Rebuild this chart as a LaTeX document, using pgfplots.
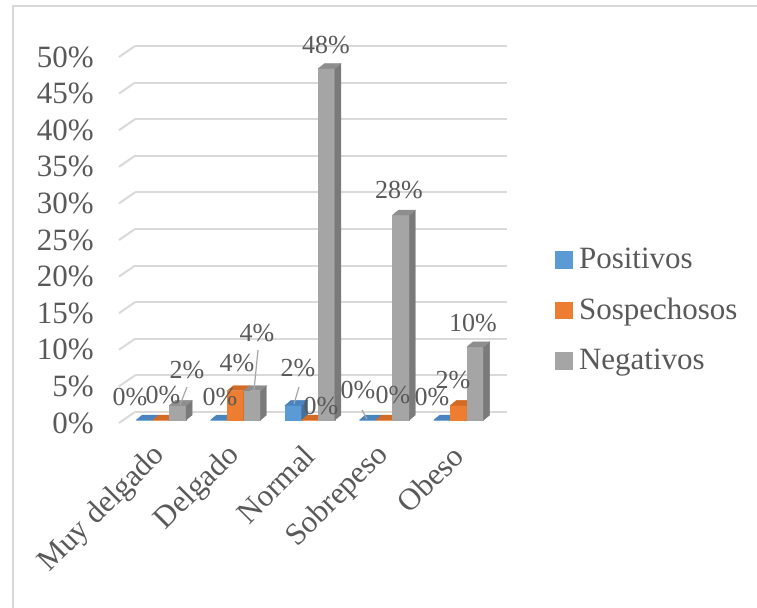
\documentclass[border=0pt]{standalone}
\usepackage{pgfplots}
\pgfplotsset{compat=1.18}
\usepackage{fontspec}
\setmainfont{Liberation Serif}

\definecolor{txt}{HTML}{595959}
\definecolor{gridc}{HTML}{D9D9D9}
\definecolor{framec}{HTML}{D9D9D9}
\definecolor{leader}{HTML}{A6A6A6}
\definecolor{posF}{HTML}{5B9BD5}
\definecolor{posT}{HTML}{4A84BE}
\definecolor{posS}{HTML}{41719C}
\definecolor{sosF}{HTML}{ED7D31}
\definecolor{sosT}{HTML}{D36A26}
\definecolor{sosS}{HTML}{B85E22}
\definecolor{negF}{HTML}{A5A5A5}
\definecolor{negT}{HTML}{8E8E8E}
\definecolor{negS}{HTML}{7A7A7A}

\newcommand\axfont{\fontsize{31bp}{36bp}\selectfont}
\newcommand\lblfont{\fontsize{26bp}{30bp}\selectfont}

\pgfplotsset{
  % a 3-D column: front, top and side faces, drawn from the bar top;
  % the column stands 5bp right and 3bp up from the front of the floor
  column3d/.style n args={3}{
    scatter, only marks, mark=*, mark size=0pt,
    mark options={draw=none, fill=none}, forget plot,
    visualization depends on={value \thisrow{val} \as \bv},
    scatter/@pre marker code/.code={%
      \pgfmathsetmacro\bb{3-\bv*7.32}%
      \pgfmathsetmacro\bbs{8-\bv*7.32}%
      \fill[#1] (-3.3bp,\bb bp) rectangle (13.3bp,3bp);
      \fill[#3] (13.3bp,\bb bp) -- (19.3bp,\bbs bp) -- (19.3bp,8bp) -- (13.3bp,3bp) -- cycle;
      \fill[#2] (-3.3bp,3bp) -- (2.7bp,8bp) -- (19.3bp,8bp) -- (13.3bp,3bp) -- cycle;
    },
    scatter/@post marker code/.code={},
  },
  % value label (centre at lx,ly from the bar top) with optional leader line
  barlabel/.style={
    scatter, only marks, mark=*, mark size=0pt,
    mark options={draw=none, fill=none}, forget plot,
    visualization depends on={value \thisrow{val} \as \bv},
    visualization depends on={value \thisrow{lx} \as \lblx},
    visualization depends on={value \thisrow{ly} \as \lbly},
    visualization depends on={value \thisrow{lead} \as \lead},
    visualization depends on={value \thisrow{ax} \as \leadax},
    visualization depends on={value \thisrow{ay} \as \leaday},
    visualization depends on={value \thisrow{bx} \as \leadbx},
    visualization depends on={value \thisrow{by} \as \leadby},
    scatter/@pre marker code/.code={%
      \ifnum\lead=1
        \draw[leader, line width=1.2bp] (\leadax bp,\leaday bp) -- (\leadbx bp,\leadby bp);
      \fi
      \node[font=\lblfont, text=txt, inner sep=0pt] at (\lblx bp,\lbly bp) {\bv\%};
    },
    scatter/@post marker code/.code={},
  },
}

\begin{document}
\begin{tikzpicture}
\useasboundingbox (-119bp,-185bp) rectangle (638bp,423bp);
% chart frame
\draw[framec, line width=1.5bp] (-106bp,-190bp) -- (-106bp,417bp) -- (645bp,417bp);
% slanted ends of the gridlines
\foreach \k in {0,...,10}
  \draw[gridc, line width=2bp] (0bp,\k*36.6bp) -- ++(16bp,11bp);

\begin{axis}[
  at={(0,0)}, anchor=south west,
  scale only axis, width=372bp, height=366bp,
  xmin=-0.5, xmax=4.5, ymin=0, ymax=50,
  clip=false,
  axis line style={draw=none},
  tick style={draw=none},
  ytick={0,5,...,50},
  yticklabels={0\%,5\%,10\%,15\%,20\%,25\%,30\%,35\%,40\%,45\%,50\%},
  yticklabel style={font=\axfont, text=txt, anchor=east, inner sep=0pt, xshift=-25bp},
  xtick={0,...,4},
  xticklabels={Muy delgado,Delgado,Normal,Sobrepeso,Obeso},
  xticklabel style={font=\axfont, text=txt, xshift=4.5bp, yshift=-28bp, rotate=45, anchor=east, inner sep=0pt},
  ymajorgrids,
  major grid style={gridc, line width=2bp, shift={(16bp,11bp)}},
  legend style={
    at={(1.172,0.4836)}, anchor=north west,
    draw=none, fill=none, inner sep=0pt,
    font=\axfont, text=txt,
    row sep=24bp,
    /tikz/every odd column/.append style={column sep=5bp},
  },
  legend cell align=left,
]
% columns: Positivos, Sospechosos, Negativos (category index, percentage)
\addplot[column3d={posF}{posT}{posS}] table[x expr=\thisrow{cat}-0.2231, y=val] {
cat val
0   0
1   0
2   2
3   0
4   0
};
\addplot[column3d={sosF}{sosT}{sosS}] table[x=cat, y=val] {
cat val
0   0
1   4
2   0
3   0
4   2
};
\addplot[column3d={negF}{negT}{negS}] table[x expr=\thisrow{cat}+0.2231, y=val] {
cat val
0   2
1   4
2   48
3   28
4   10
};

% value labels; lx ly: label centre from the bar top (bp);
% lead = 1 adds a leader line from (ax,ay) to (bx,by)
\addplot[barlabel] table[x expr=\thisrow{cat}-0.2231, y=val] {
cat val lx   ly   lead ax   ay   bx  by
0   0   -9.6 26   0    0    0    0   0
1   0   6    26   0    0    0    0   0
2   2   9.6  40.4 1    10.6 21.4 5.6 4.4
3   0   -4.8 33   1    -0.8 13   4.2 4
4   0   -5.2 26   0    0    0    0   0
};
\addplot[barlabel] table[x=cat, y=val] {
cat val lx   ly   lead ax ay bx by
0   0   6.8  28   0    0  0  0  0
1   4   6.4  30.7 0    0  0  0  0
2   0   16   17   0    0  0  0  0
3   0   13.6 28   0    0  0  0  0
4   2   -0.8 28.4 0    0  0  0  0
};
\addplot[barlabel] table[x expr=\thisrow{cat}+0.2231, y=val] {
cat val lx   ly   lead ax   ay   bx  by
0   2   14.2 38.4 1    14.2 21.4 7.2 3.4
1   4   9.8  60.7 1    10.8 43.7 6.8 3.7
2   48  4.4  27   0    0    0    0   0
3   28  3    28   0    0    0    0   0
4   10  2.6  26.8 0    0    0    0   0
};

\addlegendimage{legend image code/.code={\fill[posF] (0bp,-8.5bp) rectangle (16.5bp,8bp);}}
\addlegendentry{Positivos}
\addlegendimage{legend image code/.code={\fill[sosF] (0bp,-8.5bp) rectangle (16.5bp,8bp);}}
\addlegendentry{Sospechosos}
\addlegendimage{legend image code/.code={\fill[negF] (0bp,-8.5bp) rectangle (16.5bp,8bp);}}
\addlegendentry{Negativos}
\end{axis}
\end{tikzpicture}
\end{document}
